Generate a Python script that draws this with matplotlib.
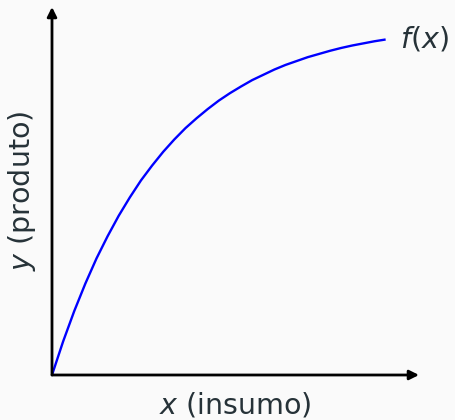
import matplotlib.pyplot as plt

# insumo vs produto (curva concava)
insumo = [0.0, 0.1, 0.2, 0.3, 0.4, 0.5, 0.6, 0.7, 0.8, 0.9, 1.0,
          1.1, 1.2, 1.3, 1.4, 1.5, 1.6, 1.7, 1.8, 1.9, 2.0,
          2.1, 2.2, 2.3, 2.4, 2.5, 2.6, 2.7, 2.8, 2.9, 3.0]
produto = [0.0, 0.095, 0.181, 0.259, 0.330, 0.393, 0.451, 0.503, 0.551, 0.593, 0.632,
           0.667, 0.699, 0.727, 0.753, 0.777, 0.798, 0.817, 0.835, 0.850, 0.865,
           0.878, 0.889, 0.900, 0.909, 0.918, 0.926, 0.933, 0.939, 0.945, 0.950]

txt = '#263238'
bg = '#fafafa'

fig = plt.figure(figsize=(4.55, 4.2), dpi=100, facecolor=bg)
ax = fig.add_axes([52/455, 45/420, 367/455, 368/420])
ax.set_facecolor(bg)

ax.plot(insumo, produto, color='blue', lw=1.7, solid_capstyle='butt',
        solid_joinstyle='round')
ax.set_xlim(0, 3.3)
ax.set_ylim(0, 1.042)

for s in ax.spines.values():
    s.set_visible(False)
ax.set_xticks([])
ax.set_yticks([])

# eixos com setas
arrow = dict(arrowstyle='-|>', color='black', lw=2, mutation_scale=14,
             shrinkA=0, shrinkB=0)
ax.annotate('', xy=(1, 0), xytext=(0, 0), xycoords='axes fraction',
            arrowprops=arrow)
ax.annotate('', xy=(0, 1), xytext=(0, 0), xycoords='axes fraction',
            arrowprops=arrow)

ax.annotate('$f(x)$', xy=(insumo[-1], produto[-1]), xytext=(10, 0),
            textcoords='offset points', fontsize=20.5, color=txt,
            va='center', ha='left')

ax.set_xlabel('$x$ (insumo)', fontsize=20.5, color=txt, labelpad=11)
ax.set_ylabel('$y$ (produto)', fontsize=20.5, color=txt, labelpad=10)

fig.savefig('out.png', dpi=100, facecolor=bg)
